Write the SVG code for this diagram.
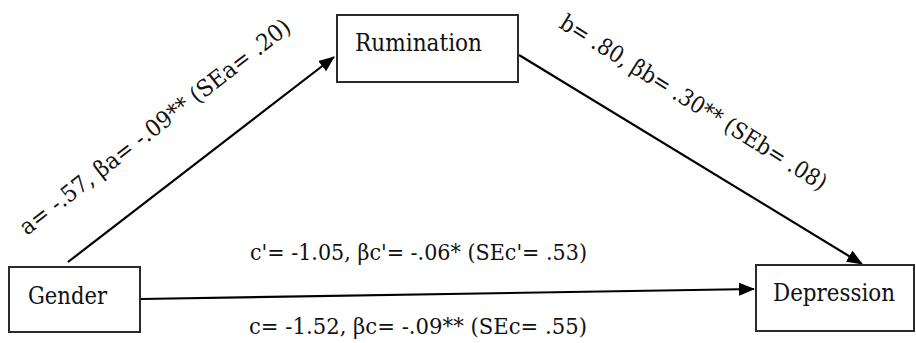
<svg xmlns="http://www.w3.org/2000/svg" width="916" height="343" viewBox="0 0 916 343">
<style>
.box{fill:#fff;stroke:#2a2a2a;stroke-width:2}
text{font-family:'DejaVu Serif','Liberation Serif',serif;fill:#111}
.node{font-size:25px}
.edge{font-size:23px}
.conn{stroke:#000;stroke-width:2.2;fill:none}
</style>
<defs>
<marker id="ah" viewBox="0 0 16 13" refX="15" refY="6.5" markerWidth="16" markerHeight="13" markerUnits="userSpaceOnUse" orient="auto">
<path d="M0,0 L16,6.5 L0,13 Z" fill="#000"/>
</marker>
</defs>
<rect width="916" height="343" fill="#fff"/>
<g id="connectors">
<line class="conn" x1="68" y1="262" x2="334" y2="57" marker-end="url(#ah)"/>
<line class="conn" x1="519" y1="55" x2="862" y2="264" marker-end="url(#ah)"/>
<line class="conn" x1="141" y1="299" x2="754" y2="289" marker-end="url(#ah)"/>
<text class="edge" transform="translate(27,236) rotate(-37.8)" textLength="336" lengthAdjust="spacingAndGlyphs">a= -.57, βa= -.09** (SEa= .20)</text>
<text class="edge" transform="translate(558,27) rotate(32)" textLength="310" lengthAdjust="spacingAndGlyphs">b= .80, βb= .30** (SEb= .08)</text>
<text class="edge" x="250" y="260" textLength="337" lengthAdjust="spacingAndGlyphs">c'= -1.05, βc'= -.06* (SEc'= .53)</text>
<text class="edge" x="249" y="334" textLength="338" lengthAdjust="spacingAndGlyphs">c= -1.52, βc= -.09** (SEc= .55)</text>
</g>
<g id="gender">
<rect class="box" x="9" y="267" width="131" height="65"/>
<text class="node" x="28" y="304" textLength="79" lengthAdjust="spacingAndGlyphs">Gender</text>
</g>
<g id="rumination">
<rect class="box" x="337" y="15" width="181" height="67"/>
<text class="node" x="355" y="51" textLength="127" lengthAdjust="spacingAndGlyphs">Rumination</text>
</g>
<g id="depression">
<rect class="box" x="756" y="265" width="158" height="66"/>
<text class="node" x="773" y="301" textLength="122" lengthAdjust="spacingAndGlyphs">Depression</text>
</g>
</svg>
